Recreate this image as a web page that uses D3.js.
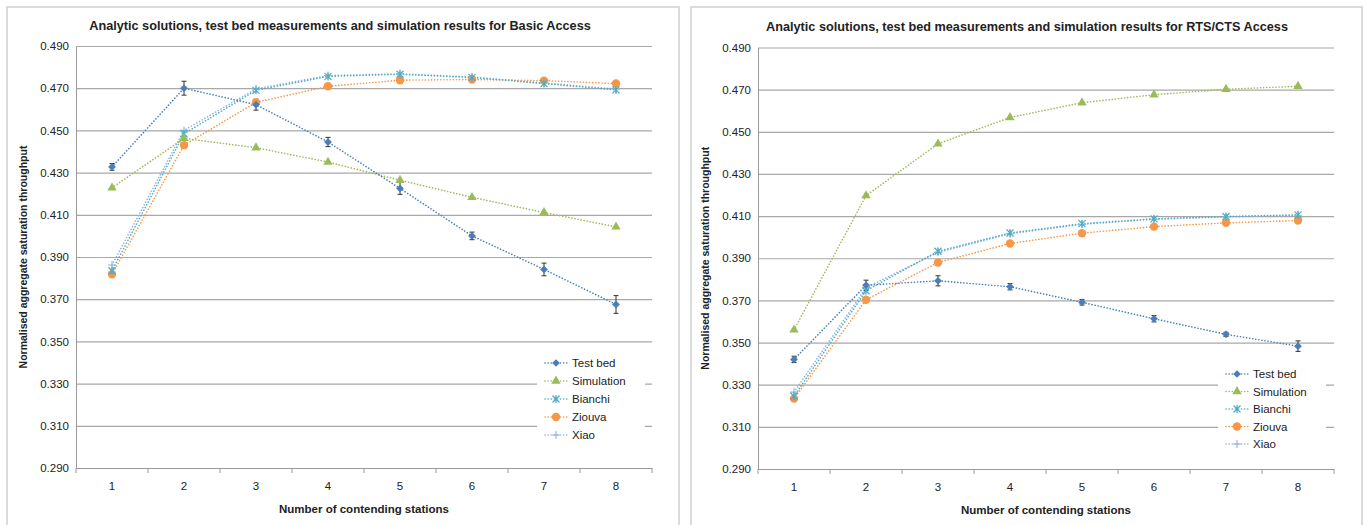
<!DOCTYPE html>
<html>
<head>
<meta charset="utf-8">
<script src="https://cdn.jsdelivr.net/npm/d3@7"></script>
<style>
  body { margin: 0; background: #fff; }
  text { font-family: "Liberation Sans", Arial, sans-serif; fill: #222; }
</style>
</head>
<body>
<svg id="chart" width="1364" height="525"></svg>
<script>
// ---- data ----
const stations = [1, 2, 3, 4, 5, 6, 7, 8];
const yTicks = [0.29, 0.31, 0.33, 0.35, 0.37, 0.39, 0.41, 0.43, 0.45, 0.47, 0.49];
const seriesNames = ["Test bed", "Simulation", "Bianchi", "Ziouva", "Xiao"];

// Basic Access
const basicTestbed    = [0.4327, 0.4700, 0.4622, 0.4445, 0.4225, 0.4000, 0.3841, 0.3675];
const basicTestbedErr = [0.0016, 0.0033, 0.0026, 0.0022, 0.0028, 0.0018, 0.0030, 0.0042];
const basicSim        = [0.4228, 0.4462, 0.4418, 0.4350, 0.4264, 0.4183, 0.4111, 0.4043];
const basicBianchi    = [0.3835, 0.4484, 0.4690, 0.4756, 0.4766, 0.4751, 0.4722, 0.4692];
const basicZiouva     = [0.3818, 0.4430, 0.4633, 0.4709, 0.4738, 0.4741, 0.4736, 0.4722];
const basicXiao       = [0.3862, 0.4500, 0.4697, 0.4760, 0.4768, 0.4753, 0.4725, 0.4696];

// RTS/CTS Access
const rtsTestbed    = [0.3420, 0.3772, 0.3793, 0.3765, 0.3691, 0.3613, 0.3539, 0.3483];
const rtsTestbedErr = [0.0015, 0.0024, 0.0024, 0.0015, 0.0013, 0.0015, 0.0010, 0.0025];
const rtsSim        = [0.3560, 0.4197, 0.4443, 0.4568, 0.4638, 0.4676, 0.4702, 0.4716];
const rtsBianchi    = [0.3245, 0.3746, 0.3933, 0.4020, 0.4064, 0.4087, 0.4098, 0.4106];
const rtsZiouva     = [0.3234, 0.3703, 0.3880, 0.3970, 0.4019, 0.4050, 0.4068, 0.4079];
const rtsXiao       = [0.3265, 0.3760, 0.3928, 0.4016, 0.4061, 0.4085, 0.4096, 0.4104];

const colors = {
  "Test bed": "#4a7ebb",
  "Simulation": "#9bbb59",
  "Bianchi": "#4bacc6",
  "Ziouva": "#f79646",
  "Xiao": "#8eb4e3"
};

const svg = d3.select("#chart");

function drawMarker(g, name, x, y) {
  let c = colors[name];
  if (name === "Test bed") {
    g.append("path").attr("d", d3.symbol(d3.symbolSquare, 30)())
      .attr("transform", `translate(${x},${y}) rotate(45)`).attr("fill", c);
  } else if (name === "Simulation") {
    g.append("path").attr("d", d3.symbol(d3.symbolTriangle, 38)())
      .attr("transform", `translate(${x},${y})`).attr("fill", c);
  } else if (name === "Ziouva") {
    g.append("circle").attr("cx", x).attr("cy", y).attr("r", 4.2).attr("fill", c);
  } else if (name === "Bianchi") {
    g.append("path")
      .attr("d", "M-3.5,-3.5L3.5,3.5M-3.5,3.5L3.5,-3.5M0,-4L0,4")
      .attr("transform", `translate(${x},${y})`)
      .attr("stroke", c).attr("stroke-width", 1.2).attr("fill", "none");
  } else {
    g.append("path")
      .attr("d", "M-4,0L4,0M0,-4L0,4")
      .attr("transform", `translate(${x},${y})`)
      .attr("stroke", c).attr("stroke-width", 1.1).attr("fill", "none");
  }
}

function drawChart(opts) {
  let g = svg.append("g");

  // panel frame
  g.append("rect")
    .attr("x", opts.panel[0]).attr("y", opts.panel[1])
    .attr("width", opts.panel[2]).attr("height", opts.panel[3])
    .attr("fill", "#fff").attr("stroke", "#d0d0d0").attr("stroke-width", 1.5);

  let xScale = d3.scaleBand()
                 .domain(stations)
                 .range([opts.left, opts.right]);
  let cx = (d) => xScale(d) + xScale.bandwidth() / 2;

  let yScale = d3.scaleLinear()
                 .domain([0.29, 0.49])
                 .range([opts.bottom, opts.top]);

  // gridlines
  g.append("g")
    .attr("transform", `translate(${opts.left},0)`)
    .call(d3.axisLeft(yScale).tickValues(yTicks).tickSize(-(opts.right - opts.left)).tickFormat(""))
    .call(a => a.select(".domain").remove())
    .call(a => a.selectAll("line").attr("stroke", "#a8a8a8").attr("stroke-width", 1.2));

  // y axis labels
  g.append("g")
    .attr("transform", `translate(${opts.left},0)`)
    .call(d3.axisLeft(yScale).tickValues(yTicks).tickSize(0).tickPadding(7).tickFormat(d3.format(".3f")))
    .call(a => a.select(".domain").attr("stroke", "#9a9a9a"))
    .call(a => a.selectAll("text").attr("font-size", 11.5).attr("fill", "#222")
                .style("font-family", "'Liberation Sans', Arial, sans-serif"));

  // x axis
  g.append("g")
    .attr("transform", `translate(0,${opts.bottom})`)
    .call(d3.axisBottom(xScale).tickSize(0).tickPadding(14))
    .call(a => a.select(".domain").attr("stroke", "#9a9a9a"))
    .call(a => a.selectAll("text").attr("font-size", 11.5).attr("fill", "#222")
                .style("font-family", "'Liberation Sans', Arial, sans-serif"));

  // tick marks between categories
  let bounds = stations.map(d => xScale(d)).concat([opts.right]);
  g.selectAll(".btick").data(bounds).enter().append("line")
    .attr("x1", d => d).attr("x2", d => d)
    .attr("y1", opts.bottom).attr("y2", opts.bottom + 5)
    .attr("stroke", "#9a9a9a");

  // title and axis titles
  g.append("text")
    .attr("x", opts.titleX).attr("y", opts.titleY)
    .attr("text-anchor", "middle").attr("font-weight", "bold").attr("font-size", 12.7)
    .text(opts.title);

  g.append("text")
    .attr("x", (opts.left + opts.right) / 2).attr("y", opts.bottom + 45)
    .attr("text-anchor", "middle").attr("font-weight", "bold").attr("font-size", 11.5)
    .text("Number of contending stations");

  g.append("text")
    .attr("transform", `translate(${opts.left - 49},${(opts.top + opts.bottom) / 2}) rotate(-90)`)
    .attr("text-anchor", "middle").attr("font-weight", "bold").attr("font-size", 10.5)
    .text("Normalised aggregate saturation throughput");

  let line = d3.line().x((d, i) => cx(stations[i])).y(d => yScale(d));

  // draw series, back to front
  let order = ["Xiao", "Ziouva", "Bianchi", "Simulation", "Test bed"];
  order.forEach(name => {
    let vals = opts.series[name];
    g.append("path")
      .datum(vals)
      .attr("d", line)
      .attr("fill", "none")
      .attr("stroke", colors[name])
      .attr("stroke-width", 1.6)
      .attr("stroke-linecap", "round")
      .attr("stroke-dasharray", "0.1,3");
  });

  // error bars on test bed
  let eb = g.append("g").attr("stroke", "#333").attr("stroke-width", 1);
  opts.series["Test bed"].forEach((v, i) => {
    let x = cx(stations[i]);
    let e = opts.err[i];
    eb.append("line").attr("x1", x).attr("x2", x).attr("y1", yScale(v - e)).attr("y2", yScale(v + e));
    eb.append("line").attr("x1", x - 2.5).attr("x2", x + 2.5).attr("y1", yScale(v - e)).attr("y2", yScale(v - e));
    eb.append("line").attr("x1", x - 2.5).attr("x2", x + 2.5).attr("y1", yScale(v + e)).attr("y2", yScale(v + e));
  });

  order.forEach(name => {
    let mg = g.append("g");
    opts.series[name].forEach((v, i) => drawMarker(mg, name, cx(stations[i]), yScale(v)));
  });

  // legend
  let lg = g.append("g").attr("transform", `translate(${opts.legend[0]},${opts.legend[1]})`);
  lg.append("rect").attr("x", -8).attr("y", -11).attr("width", 108).attr("height", 93).attr("fill", "#fff");
  seriesNames.forEach((name, i) => {
    let y = i * opts.legendStep;
    lg.append("line").attr("x1", 0).attr("x2", 22).attr("y1", y).attr("y2", y)
      .attr("stroke", colors[name]).attr("stroke-width", 1.6)
      .attr("stroke-linecap", "round").attr("stroke-dasharray", "0.1,3");
    drawMarker(lg, name, 11, y);
    lg.append("text").attr("x", 27).attr("y", y + 4).attr("font-size", 11.5).text(name);
  });
}

drawChart({
  panel: [7, 7, 672, 522],
  left: 76, right: 652, top: 46, bottom: 468,
  title: "Analytic solutions, test bed measurements and simulation results for Basic Access",
  titleX: 340, titleY: 30,
  series: { "Test bed": basicTestbed, "Simulation": basicSim, "Bianchi": basicBianchi, "Ziouva": basicZiouva, "Xiao": basicXiao },
  err: basicTestbedErr,
  legend: [545, 363], legendStep: 18
});

drawChart({
  panel: [691, 7, 671, 522],
  left: 758, right: 1334, top: 47.5, bottom: 469,
  title: "Analytic solutions, test bed measurements and simulation results for RTS/CTS Access",
  titleX: 1027, titleY: 31,
  series: { "Test bed": rtsTestbed, "Simulation": rtsSim, "Bianchi": rtsBianchi, "Ziouva": rtsZiouva, "Xiao": rtsXiao },
  err: rtsTestbedErr,
  legend: [1226, 374], legendStep: 17.5
});
</script>
</body>
</html>
